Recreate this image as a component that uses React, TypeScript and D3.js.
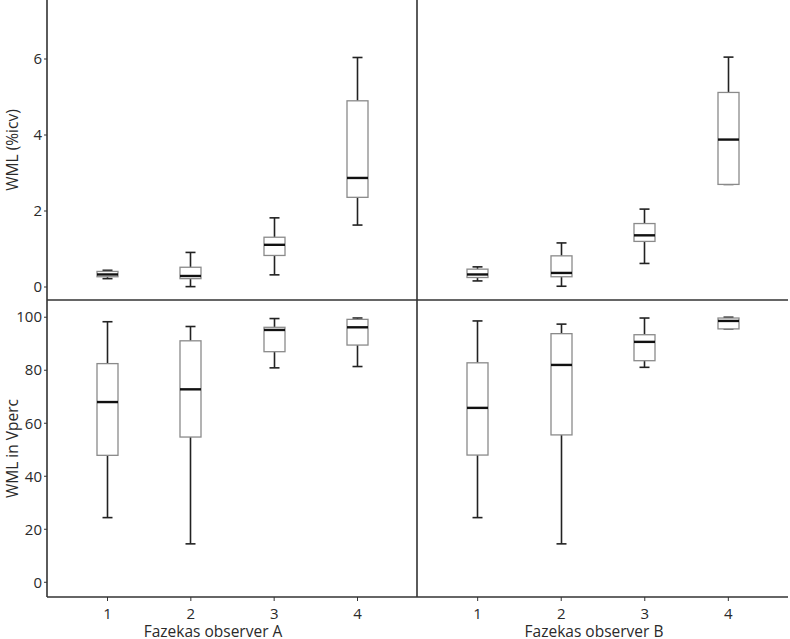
import React from "react";
import * as d3 from "d3";

const categories = ["1", "2", "3", "4"];
const panelsX = ["Fazekas observer A", "Fazekas observer B"];

// [min, q1, median, q3, max]
const icvA = [
  [0.22, 0.27, 0.33, 0.41, 0.44],
  [0.01, 0.22, 0.29, 0.52, 0.91],
  [0.32, 0.83, 1.11, 1.31, 1.82],
  [1.63, 2.36, 2.87, 4.9, 6.04],
];
const icvB = [
  [0.16, 0.25, 0.33, 0.47, 0.53],
  [0.02, 0.27, 0.37, 0.82, 1.16],
  [0.62, 1.2, 1.36, 1.67, 2.05],
  [2.7, 2.7, 3.88, 5.12, 6.05],
];
const vpercA = [
  [24.4, 47.9, 68.0, 82.5, 98.3],
  [14.5, 54.8, 72.8, 91.1, 96.5],
  [80.9, 87.0, 95.2, 96.2, 99.5],
  [81.4, 89.5, 96.2, 99.2, 99.7],
];
const vpercB = [
  [24.4, 48.0, 65.8, 82.8, 98.6],
  [14.5, 55.6, 82.0, 93.8, 97.4],
  [81.1, 83.6, 90.7, 93.4, 99.7],
  [95.6, 95.6, 98.6, 99.7, 100.0],
];
const icvTicks = [0, 2, 4, 6];
const vpercTicks = [0, 20, 40, 60, 80, 100];
const yTitles = ["WML (%icv)", "WML in Vperc"];

const FONT = "'Open Sans', 'Noto Sans', sans-serif";
const TXT = "#2a2a2a";

function Boxes({ data, x, y }: { data: number[][]; x: d3.ScalePoint<string>; y: d3.ScaleLinear<number, number> }) {
  const bw = 21;
  const cw = 10;
  return (
    <g>
      {data.map((d, i) => {
        const cx = Math.round(x(categories[i]) as number) + 0.5;
        const [mn, q1, md, q3, mx] = d;
        return (
          <g key={i}>
            <line x1={cx} x2={cx} y1={y(mn)} y2={y(q1)} stroke="#222" strokeWidth={1.6} />
            <line x1={cx} x2={cx} y1={y(q3)} y2={y(mx)} stroke="#222" strokeWidth={1.6} />
            <line x1={cx - cw / 2} x2={cx + cw / 2} y1={y(mn)} y2={y(mn)} stroke="#222" strokeWidth={1.6} />
            <line x1={cx - cw / 2} x2={cx + cw / 2} y1={y(mx)} y2={y(mx)} stroke="#222" strokeWidth={1.6} />
            <rect x={cx - bw / 2} y={y(q3)} width={bw} height={Math.max(0.01, y(q1) - y(q3))} fill="white" stroke="#8a8a8a" strokeWidth={1.3} />
            <line x1={cx - bw / 2} x2={cx + bw / 2} y1={y(md)} y2={y(md)} stroke="#111" strokeWidth={2.4} />
          </g>
        );
      })}
    </g>
  );
}

export default function App() {
  const W = 790, H = 639;
  const left = 47, mid = 417, right = 788, top = 0, split = 300, bottom = 597;
  const xA = d3.scalePoint<string>().domain(categories).range([left, mid]).padding(0.72);
  const xB = d3.scalePoint<string>().domain(categories).range([mid, right]).padding(0.72);
  const yTop = d3.scaleLinear().domain([-0.342, 7.553]).range([split, top]);
  const yBot = d3.scaleLinear().domain([-5.55, 106.5]).range([bottom, split]);
  const axisColor = "#333";

  return (
    <div style={{ position: "absolute", left: 0, top: 0 }}>
      <svg width={W} height={H} style={{ display: "block", background: "white" }} fontFamily={FONT}>
        {/* y ticks */}
        {icvTicks.map((t) => (
          <g key={"ti" + t}>
            <line x1={left - 3} x2={left} y1={yTop(t)} y2={yTop(t)} stroke={axisColor} strokeWidth={1} />
            <text x={left - 5} y={yTop(t)} dy="0.35em" textAnchor="end" fontSize={15} fill={TXT}>{t}</text>
          </g>
        ))}
        {vpercTicks.map((t) => (
          <g key={"tv" + t}>
            <line x1={left - 3} x2={left} y1={yBot(t)} y2={yBot(t)} stroke={axisColor} strokeWidth={1} />
            <text x={left - 5} y={yBot(t)} dy="0.35em" textAnchor="end" fontSize={15} fill={TXT}>{t}</text>
          </g>
        ))}
        {/* x ticks */}
        {[xA, xB].map((x, k) => (
          <g key={"x" + k}>
            {categories.map((c) => (
              <g key={c}>
                <line x1={(x(c) as number) + 0.5} x2={(x(c) as number) + 0.5} y1={bottom} y2={bottom + 4} stroke={axisColor} strokeWidth={1} />
                <text x={(x(c) as number) + 0.5} y={619} textAnchor="middle" fontSize={15} fill={TXT}>{c}</text>
              </g>
            ))}
          </g>
        ))}
        {/* x titles */}
        <text x={213} y={637} textAnchor="middle" fontSize={15.5} fill={TXT}>{panelsX[0]}</text>
        <text x={594} y={637} textAnchor="middle" fontSize={15.5} fill={TXT}>{panelsX[1]}</text>
        {/* y titles */}
        <text transform={`translate(18,${(top + split) / 2}) rotate(-90)`} textAnchor="middle" fontSize={15.5} fill={TXT}>{yTitles[0]}</text>
        <text transform={`translate(18,${(split + bottom) / 2}) rotate(-90)`} textAnchor="middle" fontSize={15.5} fill={TXT}>{yTitles[1]}</text>

        <Boxes data={icvA} x={xA} y={yTop} />
        <Boxes data={icvB} x={xB} y={yTop} />
        <Boxes data={vpercA} x={xA} y={yBot} />
        <Boxes data={vpercB} x={xB} y={yBot} />

        {/* frame lines */}
        <line x1={left} x2={left} y1={top} y2={bottom} stroke={axisColor} strokeWidth={1.6} />
        <line x1={mid} x2={mid} y1={top} y2={bottom} stroke={axisColor} strokeWidth={1.6} />
        <line x1={left} x2={right} y1={split} y2={split} stroke={axisColor} strokeWidth={1.6} />
        <line x1={left} x2={right} y1={bottom} y2={bottom} stroke={axisColor} strokeWidth={1.6} />
      </svg>
    </div>
  );
}
